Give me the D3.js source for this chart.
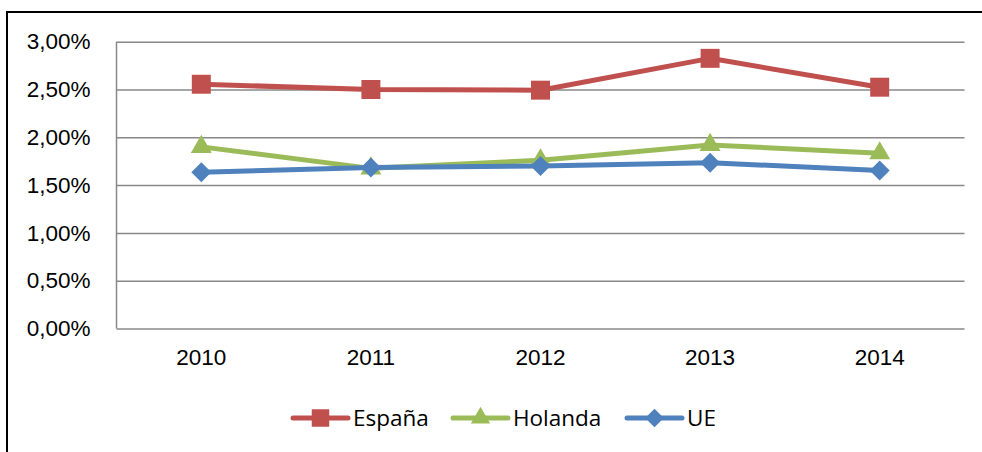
<!DOCTYPE html>
<html>
<head>
<meta charset="utf-8">
<script src="https://cdn.jsdelivr.net/npm/d3@7"></script>
<style>
  body { margin: 0; background: #fff; }
  svg { display: block; font-family: "Open Sans", sans-serif; }
</style>
</head>
<body>
<svg id="chart"></svg>
<script>
const years = ['2010', '2011', '2012', '2013', '2014']
const espana = [2.555, 2.50, 2.493, 2.826, 2.524]
const holanda = [1.90, 1.675, 1.76, 1.92, 1.833]
const ue = [1.635, 1.683, 1.70, 1.735, 1.652]
const yTicks = [0, 0.5, 1, 1.5, 2, 2.5, 3]

// diamond = square turned 45deg, like the spreadsheet marker
const series = [
    { name: 'España', values: espana, color: '#C0504D', shape: d3.symbolSquare, size: 360, rot: 0 },
    { name: 'Holanda', values: holanda, color: '#9BBB59', shape: d3.symbolTriangle, size: 190, rot: 0 },
    { name: 'UE', values: ue, color: '#4F81BD', shape: d3.symbolSquare, size: 200, rot: 45 }
]

const width = 982
const height = 452
const margin = { top: 41.7, right: 17.5, bottom: 123.5, left: 116.5 }

// set up svg container
const svg = d3.select('#chart')
    .attr('width', width)
    .attr('height', height)

// outer frame
svg.append('rect')
    .attr('x', 7).attr('y', 12)
    .attr('width', 990).attr('height', 460)
    .attr('fill', 'none')
    .attr('stroke', '#000')
    .attr('stroke-width', 2)

// scales
const x = d3.scaleBand()
    .domain(years)
    .range([margin.left, width - margin.right])

const y = d3.scaleLinear()
    .domain([0, 3])
    .range([height - margin.bottom, margin.top])

const locale = d3.formatLocale({ decimal: ',', thousands: '.', grouping: [3], currency: ['', '€'] })
const pct = v => locale.format('.2f')(v) + '%'

// gridlines + y labels
const yAxis = svg.append('g')
    .attr('transform', `translate(${margin.left},0)`)
    .call(d3.axisLeft(y).tickValues(yTicks).tickFormat(pct)
        .tickSize(-(width - margin.left - margin.right)).tickPadding(26))

yAxis.select('.domain').remove()
yAxis.selectAll('.tick line')
    .attr('stroke', '#888')
    .attr('stroke-width', 1.5)
yAxis.selectAll('.tick text')
    .attr('fill', '#000')
    .style('font-size', '22.5px')

// left axis line
svg.append('line')
    .attr('x1', margin.left).attr('x2', margin.left)
    .attr('y1', y(3)).attr('y2', y(0))
    .attr('stroke', '#888')
    .attr('stroke-width', 1.5)

// x labels
const xAxis = svg.append('g')
    .attr('transform', `translate(0,${y(0)})`)
    .call(d3.axisBottom(x).tickSize(0).tickPadding(21))
xAxis.select('.domain').remove()
xAxis.selectAll('.tick text')
    .attr('fill', '#000')
    .style('font-size', '22.5px')

// lines
const line = d3.line()
    .x((d, i) => x(years[i]) + x.bandwidth() / 2)
    .y(d => y(d))

series.forEach(s => {
    svg.append('path')
        .datum(s.values)
        .attr('d', line)
        .attr('fill', 'none')
        .attr('stroke', s.color)
        .attr('stroke-width', 5)
        .attr('stroke-linejoin', 'round')

    svg.selectAll(null)
        .data(s.values)
        .join('path')
        .attr('d', d3.symbol().type(s.shape).size(s.size))
        .attr('transform', (d, i) => `translate(${x(years[i]) + x.bandwidth() / 2},${y(d)}) rotate(${s.rot})`)
        .attr('fill', s.color)
})

// legend
const legendX = [293, 453, 627]
const legendY = 418
const legend = svg.append('g')
    .selectAll('g')
    .data(series)
    .join('g')
    .attr('transform', (d, i) => `translate(${legendX[i]},${legendY})`)

legend.append('line')
    .attr('x1', 0).attr('x2', 55)
    .attr('stroke', d => d.color)
    .attr('stroke-width', 5)
    .attr('stroke-linecap', 'round')

legend.append('path')
    .attr('d', d => d3.symbol().type(d.shape).size(d.size * 0.85)())
    .attr('transform', d => `translate(27.5,0) rotate(${d.rot})`)
    .attr('fill', d => d.color)

legend.append('text')
    .attr('x', 60)
    .attr('dy', '0.35em')
    .style('font-size', '22.5px')
    .text(d => d.name)
</script>
</body>
</html>
